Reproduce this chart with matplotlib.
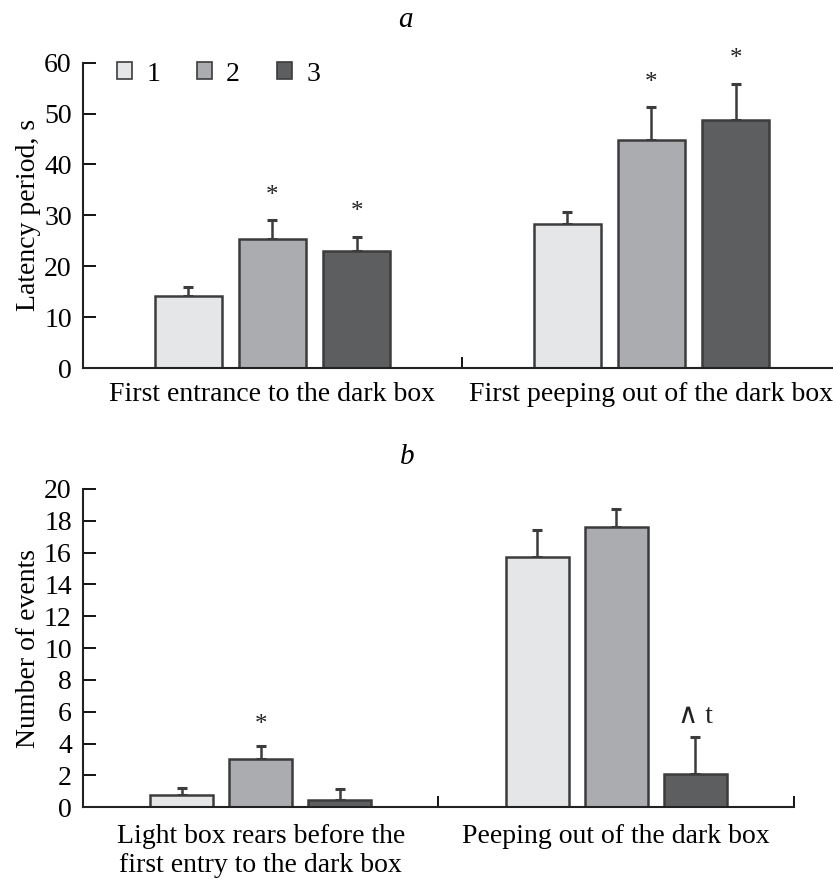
import matplotlib
matplotlib.use("Agg")
import matplotlib.pyplot as plt
import numpy as np

plt.rcParams['font.family'] = ['Liberation Serif', 'DejaVu Serif']
plt.rcParams['font.size'] = 20

# panel a: latency
cats_a = ["First entrance to the dark box", "First peeping out of the dark box"]
lat_mean = {"1": [14.2, 28.3], "2": [25.3, 44.8], "3": [23.0, 48.7]}
lat_err = {"1": [1.8, 2.4], "2": [3.8, 6.4], "3": [2.8, 7.1]}
lat_marks = {"2": ["*", "*"], "3": ["*", "*"]}

# panel b: events
cats_b = ["Light box rears before the\nfirst entry to the dark box", "Peeping out of the dark box"]
ev_mean = {"1": [0.77, 15.7], "2": [3.05, 17.6], "3": [0.46, 2.1]}
ev_err = {"1": [0.44, 1.7], "2": [0.8, 1.15], "3": [0.7, 2.3]}
ev_marks = {"2": ["*", ""], "3": ["", "^t"]}

groups = ["1", "2", "3"]
colors = {"1": "#e5e6e7", "2": "#abacaf", "3": "#5d5e60"}
edge = "#3c3c3c"

fig = plt.figure(figsize=(8.33, 8.81), dpi=100)
ax1 = fig.add_axes([0.0996, 0.582, 0.9004, 0.347])
ax2 = fig.add_axes([0.0996, 0.0837, 0.8536, 0.3613])

step = 0.222
width = 0.178


def draw(ax, means, errs, marks, cats, ymax, mark_off):
    centers = np.array([0.5, 1.5])
    for i, g in enumerate(groups):
        xs = centers + (i - 1) * step
        ax.bar(xs, means[g], width=width, color=colors[g], edgecolor=edge,
               linewidth=1.8, label=g, zorder=2)
        ax.errorbar(xs, means[g], yerr=[np.zeros(2), errs[g]], fmt='none',
                    ecolor=edge, elinewidth=1.8, capsize=3.5, capthick=2.2, zorder=1)
        for j, m in enumerate(marks.get(g, ["", ""])):
            if m:
                txt = "\u2227 t" if m == "^t" else m
                ax.text(xs[j], means[g][j] + errs[g][j] + mark_off, txt,
                        ha='center', va='center', fontsize=20 if m == "^t" else 18,
                        clip_on=False, color="#222222")
    ax.set_ylim(0, ymax)
    ax.spines['top'].set_visible(False)
    ax.spines['right'].set_visible(False)
    for s in ('left', 'bottom'):
        ax.spines[s].set_linewidth(1.5)
        ax.spines[s].set_color("#222222")
    ax.set_xticks(centers)
    ax.set_xticklabels(cats)
    ax.tick_params(axis='x', length=0, pad=10)
    ax.tick_params(axis='y', direction='in', length=9, width=1.3, pad=8)
    ax.tick_params(which='minor', axis='x', direction='in', length=8, width=1.3)
    ax.tick_params(which='minor', axis='y', length=0)


draw(ax1, lat_mean, lat_err, lat_marks, cats_a, 60, 4.8)
ax1.set_xlim(0, 750 / 379)
ax1.set_xticks([1], minor=True)
ax1.set_yticks(np.arange(0, 61, 10))
ax1.set_ylabel("Latency period, s", labelpad=2)
ax1.legend(loc='upper left', bbox_to_anchor=(0.012, 1.085), ncol=3, frameon=False,
           handlelength=0.55, handleheight=0.55, columnspacing=1.33, handletextpad=0.5,
           fontsize=20)
for p in ax1.get_legend().get_patches():
    p.set_linewidth(1.2)

draw(ax2, ev_mean, ev_err, ev_marks, cats_b, 20, 1.3)
ax2.set_xlim(0, 2)
ax2.set_xticks([1, 2], minor=True)
ax2.set_yticks(np.arange(0, 21, 2))
ax2.tick_params(axis='x', pad=12)
ax2.set_ylabel("Number of events", labelpad=2)

fig.text(405 / 833, 1 - 20 / 881, "a", style='italic', ha='center', va='center', fontsize=21)
fig.text(407 / 833, 1 - 457 / 881, "b", style='italic', ha='center', va='center', fontsize=21)

fig.savefig("out.png", dpi=100)
